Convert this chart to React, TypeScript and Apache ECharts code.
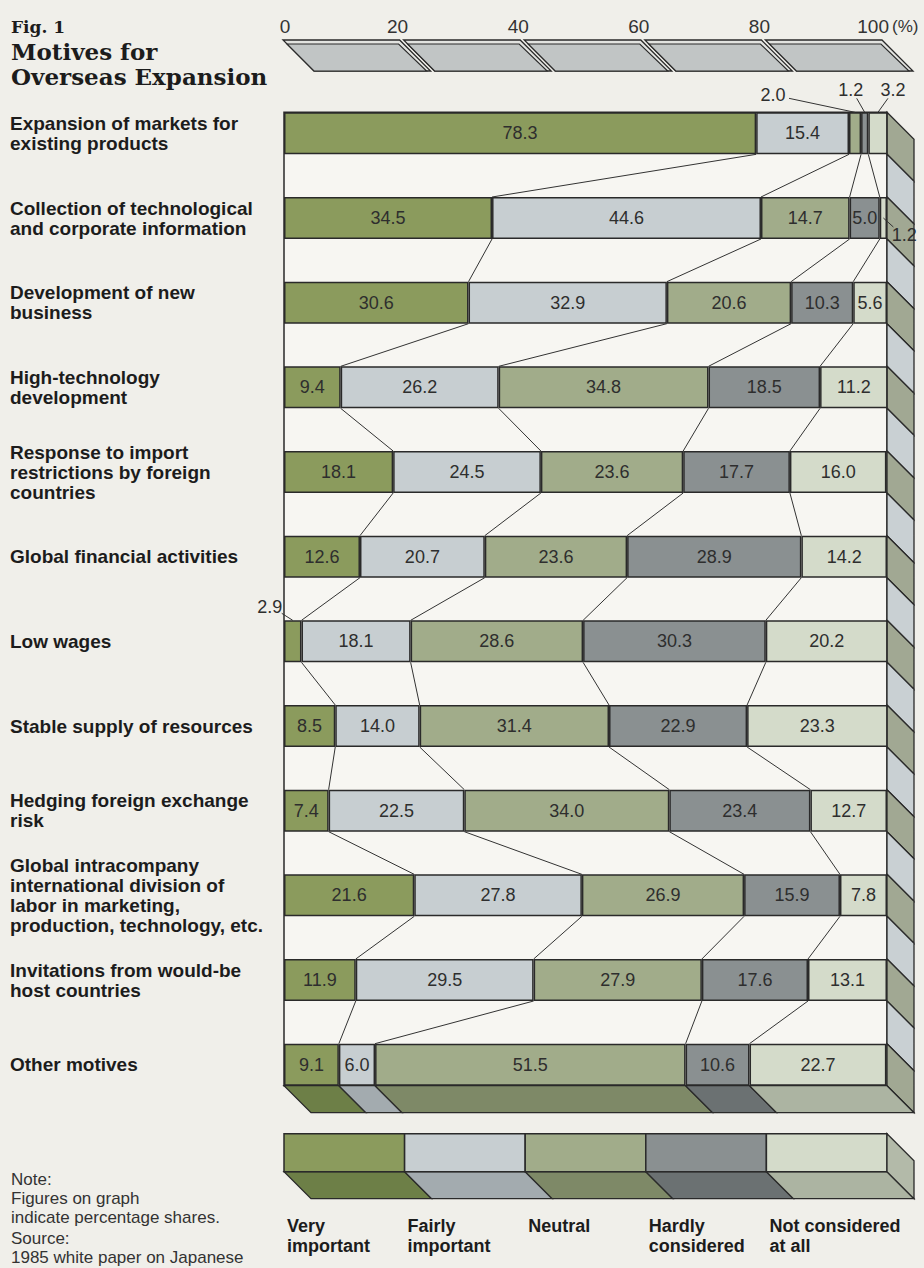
import React, { useEffect, useRef } from 'react';
import * as echarts from 'echarts';

// ---------- data ----------
const categories = [
  'Expansion of markets for\nexisting products',
  'Collection of technological\nand corporate information',
  'Development of new\nbusiness',
  'High-technology\ndevelopment',
  'Response to import\nrestrictions by foreign\ncountries',
  'Global financial activities',
  'Low wages',
  'Stable supply of resources',
  'Hedging foreign exchange\nrisk',
  'Global intracompany\ninternational division of\nlabor in marketing,\nproduction, technology, etc.',
  'Invitations from would-be\nhost countries',
  'Other motives',
];
const seriesNames = ['Very important', 'Fairly important', 'Neutral', 'Hardly considered', 'Not considered at all'];
const legendLabels = ['Very\nimportant', 'Fairly\nimportant', 'Neutral', 'Hardly\nconsidered', 'Not considered\nat all'];
const veryImportant = [78.3, 34.5, 30.6, 9.4, 18.1, 12.6, 2.9, 8.5, 7.4, 21.6, 11.9, 9.1];
const fairlyImportant = [15.4, 44.6, 32.9, 26.2, 24.5, 20.7, 18.1, 14.0, 22.5, 27.8, 29.5, 6.0];
const neutral = [2.0, 14.7, 20.6, 34.8, 23.6, 23.6, 28.6, 31.4, 34.0, 26.9, 27.9, 51.5];
const hardlyConsidered = [1.2, 5.0, 10.3, 18.5, 17.7, 28.9, 30.3, 22.9, 23.4, 15.9, 17.6, 10.6];
const notConsidered = [3.2, 1.2, 5.6, 11.2, 16.0, 14.2, 20.2, 23.3, 12.7, 7.8, 13.1, 22.7];
const seriesData = [veryImportant, fairlyImportant, neutral, hardlyConsidered, notConsidered];
const axisTicks = [0, 20, 40, 60, 80, 100];
// small segments whose figures are printed outside the bar: [row, series]
const outsideSegments = [[0, 2], [0, 3], [0, 4], [1, 4], [6, 0]];

// ---------- styles / layout ----------
const FRONT = ['#8b9b5d', '#c7ced1', '#a1ac8a', '#8a9091', '#d4dbca'];
const SIDE = ['#6d7f47', '#a3abaf', '#7e8967', '#6b7172', '#acb4a2'];
const EDGE = '#2a2a2a';
const BG = '#f0efea';
const SANS = '"Liberation Sans", Arial, Helvetica, sans-serif';
const SERIF = '"DejaVu Serif", serif';
const HALF = 21;
const DEPTH = 27;
// outside label placement: anchor ('top' | 'mid'), label offset from anchor, leader start offset from label
const outsideLayout = [
  { anchor: 'top', dx: -82, dy: -17, lx: 16, ly: 3 },
  { anchor: 'top', dx: -14, dy: -22, lx: 6, ly: 8 },
  { anchor: 'top', dx: 15, dy: -22, lx: -5, ly: 8 },
  { anchor: 'mid', dx: 21, dy: 17, lx: -11, ly: -8 },
  { anchor: 'top', dx: -23, dy: -13, lx: 12, ly: 6 },
];

function renderBackground(params: any, api: any) {
  const cs = params.coordSys;
  const X = (v: number) => api.coord([v, 0])[0];
  const Y = (i: number) => api.coord([0, i])[1];
  const n = categories.length;
  const x0 = X(0);
  const x1 = X(100);
  const top0 = Y(0) - HALF;
  const botN = Y(n - 1) + HALF;
  const children: any[] = [];

  // column (white gaps)
  children.push({
    type: 'rect',
    shape: { x: x0, y: top0, width: x1 - x0, height: botN - top0 },
    style: { fill: '#f7f6f2', stroke: EDGE, lineWidth: 1.5 },
  });
  // right side faces
  for (let i = 0; i < n; i++) {
    const t = Y(i) - HALF;
    const b = Y(i) + HALF;
    children.push({
      type: 'polygon',
      shape: { points: [[x1, t], [x1 + DEPTH, t + DEPTH], [x1 + DEPTH, b + DEPTH], [x1, b]] },
      style: { fill: '#a1a893', stroke: EDGE, lineWidth: 1.3 },
    });
    if (i < n - 1) {
      const t2 = Y(i + 1) - HALF;
      children.push({
        type: 'polygon',
        shape: { points: [[x1, b], [x1 + DEPTH, b + DEPTH], [x1 + DEPTH, t2 + DEPTH], [x1, t2]] },
        style: { fill: '#c9d0d3', stroke: EDGE, lineWidth: 1.3 },
      });
    }
  }
  // bottom face of last bar
  let cum = 0;
  for (let k = 0; k < seriesData.length; k++) {
    const xs = X(cum);
    cum += seriesData[k][n - 1];
    const xe = k === seriesData.length - 1 ? x1 : X(cum);
    children.push({
      type: 'polygon',
      shape: { points: [[xs, botN], [xe, botN], [xe + DEPTH, botN + DEPTH], [xs + DEPTH, botN + DEPTH]] },
      style: { fill: SIDE[k], stroke: EDGE, lineWidth: 1.3 },
    });
  }
  // connecting lines between adjacent bars
  for (let i = 0; i < n - 1; i++) {
    let c1 = 0;
    let c2 = 0;
    for (let k = 0; k < seriesData.length - 1; k++) {
      c1 += seriesData[k][i];
      c2 += seriesData[k][i + 1];
      children.push({
        type: 'line',
        shape: { x1: X(c1), y1: Y(i) + HALF, x2: X(c2), y2: Y(i + 1) - HALF },
        style: { stroke: '#333', lineWidth: 1 },
      });
    }
  }
  // top scale plates
  const ys = cs.y - 51;
  const S = 31;
  for (let j = 0; j < axisTicks.length - 1; j++) {
    const xa = X(axisTicks[j]) - 1;
    const xb = X(axisTicks[j + 1]) - 5;
    children.push({
      type: 'polygon',
      shape: { points: [[xa, ys], [xb, ys], [xb + S, ys + S], [xa + S, ys + S]] },
      style: { fill: '#e2e3e0', stroke: EDGE, lineWidth: 1.3 },
    });
    children.push({
      type: 'polygon',
      shape: { points: [[xa + 4, ys + 4], [xb - 1, ys + 4], [xb + S - 4, ys + S], [xa + S, ys + S]] },
      style: { fill: '#c1c5c5', stroke: EDGE, lineWidth: 1.1 },
    });
  }
  // tick labels
  for (let j = 0; j < axisTicks.length; j++) {
    const t = axisTicks[j];
    const x = X(t);
    if (t === 100) {
      children.push({ type: 'text', style: { x: x + 2, y: ys - 14, text: String(t), textAlign: 'right', textVerticalAlign: 'middle', font: `19px ${SANS}`, fill: '#333' } });
      children.push({ type: 'text', style: { x: x + 5, y: ys - 14, text: '(%)', textAlign: 'left', textVerticalAlign: 'middle', font: `17px ${SANS}`, fill: '#333' } });
    } else {
      children.push({ type: 'text', style: { x: t === 0 ? x + 1 : x - 7, y: ys - 14, text: String(t), textAlign: 'center', textVerticalAlign: 'middle', font: `19px ${SANS}`, fill: '#333' } });
    }
  }
  // legend block
  const yl = botN + DEPTH + 21;
  const hl = 38;
  for (let k = 0; k < seriesNames.length; k++) {
    const xa = X(k * 20);
    const xb = X((k + 1) * 20);
    children.push({
      type: 'polygon',
      shape: { points: [[xa, yl + hl], [xb, yl + hl], [xb + DEPTH, yl + hl + DEPTH], [xa + DEPTH, yl + hl + DEPTH]] },
      style: { fill: SIDE[k], stroke: EDGE, lineWidth: 1.3 },
    });
    children.push({
      type: 'rect',
      shape: { x: xa, y: yl, width: xb - xa, height: hl },
      style: { fill: FRONT[k], stroke: EDGE, lineWidth: 1.5 },
    });
    children.push({
      type: 'text',
      style: { x: xa + 3, y: yl + hl + DEPTH + 17, text: legendLabels[k], textAlign: 'left', textVerticalAlign: 'top', font: `bold 18px ${SANS}`, lineHeight: 20, fill: '#1c1c1c' },
    });
  }
  children.push({
    type: 'polygon',
    shape: { points: [[x1, yl], [x1 + DEPTH, yl + DEPTH], [x1 + DEPTH, yl + hl + DEPTH], [x1, yl + hl]] },
    style: { fill: '#b3baa9', stroke: EDGE, lineWidth: 1.3 },
  });
  return { type: 'group', children };
}

function renderOverlay(params: any, api: any) {
  const X = (v: number) => api.coord([v, 0])[0];
  const Y = (i: number) => api.coord([0, i])[1];
  const children: any[] = [];
  outsideSegments.forEach(([row, s], idx) => {
    let start = 0;
    for (let k = 0; k < s; k++) start += seriesData[k][row];
    const val = seriesData[s][row];
    const ax = X(start + val / 2);
    const lay = outsideLayout[idx];
    const ay = lay.anchor === 'top' ? Y(row) - HALF : Y(row);
    const lxp = ax + lay.dx;
    const lyp = ay + lay.dy;
    children.push({
      type: 'line',
      shape: { x1: lxp + lay.lx, y1: lyp + lay.ly, x2: ax, y2: ay },
      style: { stroke: '#333', lineWidth: 1 },
    });
    children.push({
      type: 'text',
      style: { x: lxp, y: lyp, text: val.toFixed(1), textAlign: 'center', textVerticalAlign: 'middle', font: `18px ${SANS}`, fill: '#2e2e2e' },
    });
  });
  return { type: 'group', children };
}

export default function App() {
  const ref = useRef<HTMLDivElement>(null);
  useEffect(() => {
    document.body.style.margin = '0';
    const chart = echarts.init(ref.current!, null, { renderer: 'svg' });
    const bars = seriesNames.map((name, k) => ({
      name,
      type: 'bar',
      stack: 'total',
      barWidth: HALF * 2,
      data: seriesData[k],
      z: 3,
      itemStyle: { color: FRONT[k], borderColor: EDGE, borderWidth: 1.5 },
      label: {
        show: true,
        position: 'inside',
        color: '#2e2e2e',
        fontSize: 18,
        fontFamily: SANS,
        formatter: (p: any) => (p.value < 4 ? '' : Number(p.value).toFixed(1)),
      },
    }));
    chart.setOption({
      animation: false,
      backgroundColor: BG,
      grid: { left: 284, top: 91, width: 603, height: 1016 },
      xAxis: { type: 'value', min: 0, max: 100, interval: 20, show: false },
      yAxis: {
        type: 'category',
        data: categories,
        inverse: true,
        axisLine: { show: false },
        axisTick: { show: false },
        axisLabel: {
          align: 'left',
          margin: 274,
          fontSize: 19,
          fontWeight: 'bold',
          fontFamily: SANS,
          color: '#1c1c1c',
          lineHeight: 20,
        },
      },
      graphic: [
        { type: 'text', left: 11, top: 18, style: { text: 'Fig. 1', font: `bold 17px ${SERIF}`, fill: '#1c1c1c' } },
        { type: 'text', left: 11, top: 40, style: { text: 'Motives for', font: `bold 23px ${SERIF}`, fill: '#1c1c1c' } },
        { type: 'text', left: 11, top: 65, style: { text: 'Overseas Expansion', font: `bold 23px ${SERIF}`, fill: '#1c1c1c' } },
        {
          type: 'text',
          left: 11,
          top: 1170,
          style: { text: 'Note:\nFigures on graph\nindicate percentage shares.', font: `17px ${SANS}`, lineHeight: 19, fill: '#333' },
        },
        {
          type: 'text',
          left: 11,
          top: 1229,
          style: { text: 'Source:\n1985 white paper on Japanese', font: `17px ${SANS}`, lineHeight: 19, fill: '#333' },
        },
      ],
      series: [
        { type: 'custom', z: 1, renderItem: renderBackground, data: [[0, 0]], silent: true },
        ...bars,
        { type: 'custom', z: 10, renderItem: renderOverlay, data: [[0, 0]], silent: true },
      ],
    });
    return () => chart.dispose();
  }, []);
  return <div ref={ref} style={{ position: 'absolute', left: 0, top: 0, width: 924, height: 1268 }} />;
}
